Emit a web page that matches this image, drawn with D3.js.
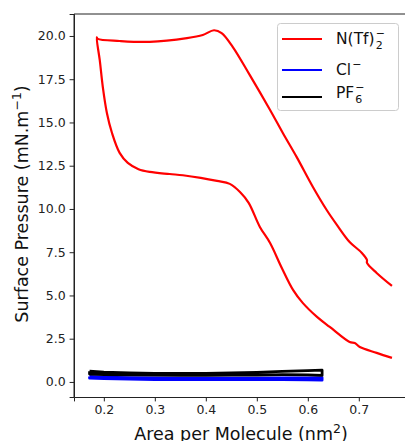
<!DOCTYPE html>
<html><head><meta charset="utf-8">
<script src="https://cdn.jsdelivr.net/npm/d3@7"></script>
<style>body{margin:0;background:#fff}svg{display:block}text{font-family:"DejaVu Sans",sans-serif}</style>
</head><body><svg id="c" width="405" height="441"></svg>
<script>
const redX = [0.765,0.735,0.716,0.716,0.706,0.682,0.657,0.637,0.610,0.578,0.551,0.526,0.486,0.453,0.431,0.416,0.394,0.363,0.290,0.231,0.188,0.186,0.192,0.198,0.206,0.216,0.231,0.247,0.268,0.290,0.329,0.355,0.390,0.422,0.447,0.467,0.484,0.506,0.526,0.549,0.571,0.590,0.618,0.643,0.682,0.692,0.702,0.735,0.765];
const redY = [5.55,6.30,6.88,7.05,7.46,8.09,9.08,9.94,11.27,13.01,14.39,15.72,17.75,19.36,20.17,20.33,20.06,19.88,19.66,19.71,19.83,19.92,18.6,17.05,15.55,14.39,13.24,12.66,12.30,12.14,12.02,11.95,11.80,11.62,11.45,10.98,10.35,8.96,8.03,6.59,5.32,4.57,3.76,3.18,2.31,2.25,2.02,1.68,1.39];
const bandX = [0.172,0.20,0.25,0.30,0.35,0.40,0.45,0.50,0.55,0.60,0.628];
const blackUp = [0.62,0.56,0.53,0.50,0.49,0.50,0.52,0.55,0.61,0.65,0.68];
const blackDown = [0.46,0.43,0.41,0.39,0.38,0.38,0.39,0.40,0.42,0.41,0.38];
const blueUp = [0.32,0.28,0.25,0.23,0.22,0.22,0.22,0.22,0.23,0.24,0.25];
const blueDown = [0.22,0.19,0.16,0.14,0.13,0.13,0.13,0.13,0.13,0.12,0.10];
const xTicks = [0.2,0.3,0.4,0.5,0.6,0.7];
const yTicks = [0,2.5,5,7.5,10,12.5,15,17.5,20];
const legendItems = [
  {color:"#ff0000", base:"N(Tf)", sub:"2", sup:"−"},
  {color:"#0000ff", base:"Cl", sub:"", sup:"−"},
  {color:"#000000", base:"PF", sub:"6", sup:"−"}
];

const svg = d3.select("#c");
const L=74, T=14, R=407, B=397;
const x = d3.scaleLinear().domain([0.1415,0.7945]).range([L,R]);
const y = d3.scaleLinear().domain([-0.87,21.27]).range([B,T]);

const line = d3.line().x(d=>x(d[0])).y(d=>y(d[1]));
const smooth = d3.line().x(d=>x(d[0])).y(d=>y(d[1])).curve(d3.curveCatmullRom.alpha(0.5));
const g = svg.append("g");
g.append("path").datum(redX.map((v,i)=>[v,redY[i]]))
  .attr("d",smooth).attr("fill","none").attr("stroke","#ff0000").attr("stroke-width",2.2).attr("stroke-linejoin","round");

function band(up, down, color, w){
  const pts = bandX.map((v,i)=>[v,up[i]]).concat(bandX.map((v,i)=>[v,down[i]]).reverse());
  pts.push(pts[0]);
  g.append("path").datum(pts).attr("d",line).attr("fill","none").attr("stroke",color).attr("stroke-width",w).attr("stroke-linejoin","round");
}
band(blueUp, blueDown, "#0000ff", 2.8);
band(blackUp, blackDown, "#000000", 2.8);

// axes
const xa = svg.append("g").attr("transform",`translate(0,${B})`)
  .call(d3.axisBottom(x).tickValues(xTicks).tickFormat(d3.format(".1f")).tickSizeOuter(0).tickSize(4.4).tickPadding(4));
const ya = svg.append("g").attr("transform",`translate(${L},0)`)
  .call(d3.axisLeft(y).tickValues(yTicks).tickFormat(d3.format(".1f")).tickSizeOuter(0).tickSize(4.4).tickPadding(4));
[xa,ya].forEach(a=>{a.selectAll("text").attr("font-size",12.5).attr("fill","#222").attr("font-family","DejaVu Sans");
  a.selectAll("line").attr("stroke","#222"); a.select(".domain").attr("stroke","#222");});
svg.append("line").attr("x1",L).attr("x2",R).attr("y1",T).attr("y2",T).attr("stroke","#222");
svg.append("line").attr("x1",L).attr("x2",L).attr("y1",T).attr("y2",B).attr("stroke","#222");

// axis labels
const xl = svg.append("text").attr("x",241).attr("y",440).attr("text-anchor","middle").attr("font-size",17.5).attr("fill","#111");
xl.append("tspan").text("Area per Molecule (nm");
xl.append("tspan").text("2").attr("dy",-7).attr("font-size",12.5);
xl.append("tspan").text(")").attr("dy",7);
const yl = svg.append("text").attr("transform","translate(28,204) rotate(-90)").attr("text-anchor","middle").attr("font-size",17.5).attr("fill","#111");
yl.append("tspan").text("Surface Pressure (mN.m");
yl.append("tspan").text("−1").attr("dy",-7).attr("font-size",12.5);
yl.append("tspan").text(")").attr("dy",7);

// legend
const lg = svg.append("g");
lg.append("rect").attr("x",277.5).attr("y",23.5).attr("width",121).attr("height",87).attr("rx",3)
  .attr("fill","#fff").attr("fill-opacity",0.8).attr("stroke","#ccc");
const lineY=[39,70,97], baseY=[44,75,98];
legendItems.forEach((it,i)=>{
  lg.append("line").attr("x1",282).attr("x2",322).attr("y1",lineY[i]).attr("y2",lineY[i]).attr("stroke",it.color).attr("stroke-width",2.2);
  const t = lg.append("text").attr("x",336).attr("y",baseY[i]).attr("font-size",15.5).attr("fill","#111").text(it.base);
  const w = t.node().getComputedTextLength();
  if(it.sub) lg.append("text").attr("x",336+w+1).attr("y",baseY[i]+5).attr("font-size",11).attr("fill","#111").text(it.sub);
  lg.append("text").attr("x",336+w+1).attr("y",baseY[i]-7).attr("font-size",11).attr("fill","#111").text(it.sup);
});
</script></body></html>
